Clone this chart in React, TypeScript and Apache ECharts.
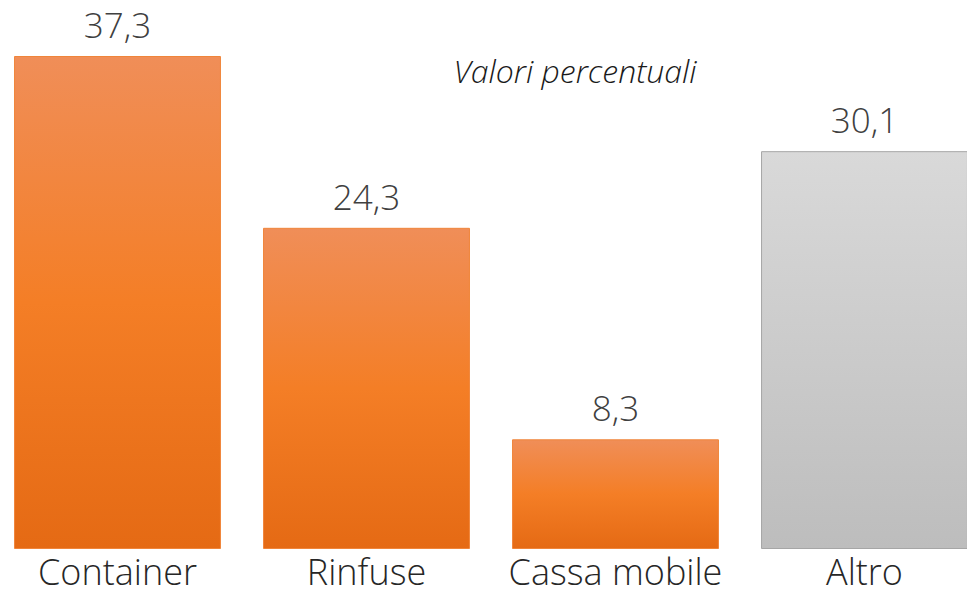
import React, { useEffect, useRef } from "react";
import * as echarts from "echarts";

const categories = ["Container", "Rinfuse", "Cassa mobile", "Altro"];
const values = [37.3, 24.3, 8.3, 30.1];
const isOther = [false, false, false, true];
const title = "Valori percentuali";

const orangeGrad = () =>
  new echarts.graphic.LinearGradient(0, 0, 0, 1, [
    { offset: 0, color: "#F08E58" },
    { offset: 0.5, color: "#F47E26" },
    { offset: 1, color: "#E56A14" },
  ]);
const grayGrad = () =>
  new echarts.graphic.LinearGradient(0, 0, 0, 1, [
    { offset: 0, color: "#D9D9D9" },
    { offset: 1, color: "#BDBDBD" },
  ]);

const FONT = "'Open Sans'";

export default function App() {
  const ref = useRef<HTMLDivElement>(null);
  useEffect(() => {
    if (!ref.current) return;
    const chart = echarts.init(ref.current, null, { renderer: "svg" });
    chart.setOption({
      animation: false,
      backgroundColor: "#ffffff",
      title: {
        text: title,
        left: 570,
        top: 49,
        textAlign: "center",
        textStyle: {
          fontFamily: FONT,
          fontStyle: "italic",
          fontWeight: 300,
          fontSize: 32,
          color: "#1a1a1a",
        },
      },
      grid: {
        left: -7,
        right: -22,
        top: 56,
        bottom: 46,
        containLabel: false,
        outerBoundsMode: "none",
      },
      xAxis: {
        type: "category",
        data: categories,
        axisLine: { show: false },
        axisTick: { show: false },
        axisLabel: {
          fontFamily: FONT,
          fontWeight: 300,
          fontSize: 36,
          color: "#262626",
          margin: 4,
          interval: 0,
        },
      },
      yAxis: {
        type: "value",
        min: 0,
        max: 37.3,
        show: false,
        splitLine: { show: false },
      },
      series: [
        {
          type: "bar",
          barCategoryGap: "16.9%",
          data: values.map((v, i) => ({
            value: v,
            itemStyle: isOther[i]
              ? { color: grayGrad(), borderColor: "#A6A6A6", borderWidth: 1 }
              : { color: orangeGrad(), borderColor: "#F0853A", borderWidth: 1 },
          })),
          label: {
            show: true,
            position: "top",
            distance: 14,
            fontFamily: FONT,
            fontWeight: 300,
            fontSize: 35,
            color: "#404040",
            formatter: (p: any) => String(p.value).replace(".", ","),
          },
        },
      ],
    });
    return () => chart.dispose();
  }, []);
  return (
    <div
      ref={ref}
      style={{ position: "fixed", left: 0, top: 0, width: 967, height: 595 }}
    />
  );
}
